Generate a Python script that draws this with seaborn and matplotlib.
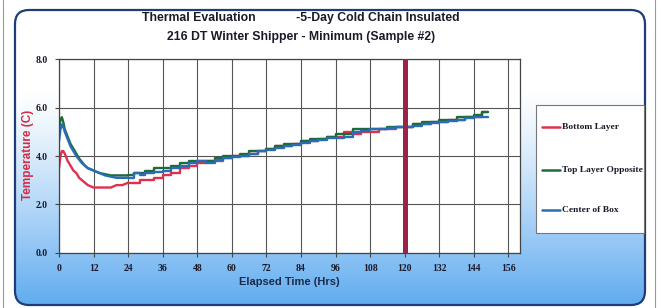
import numpy as np
import pandas as pd
import seaborn as sns
from matplotlib import pyplot as plt
from matplotlib.patches import FancyBboxPatch, Rectangle

# elapsed hours and readings (deg C)
hours = [0, 0.5, 1, 1.5, 2, 3, 4, 5, 6, 7, 8, 9, 10, 11, 12, 14, 16, 18, 20, 22,
         24, 26, 28, 30, 33, 36, 39, 42, 45, 48, 51, 54, 57, 60, 63, 66, 69, 72,
         75, 78, 81, 84, 87, 90, 93, 96, 99, 102, 105, 108, 111, 114, 117, 120,
         123, 126, 129, 132, 135, 138, 141, 144, 147, 149]
bottom_layer = [3.5, 4.0, 4.2, 4.2, 4.1, 3.8, 3.6, 3.4, 3.3, 3.1, 3.0, 2.9, 2.8, 2.75,
                2.7, 2.7, 2.7, 2.7, 2.8, 2.8, 2.9, 2.9, 3.0, 3.0, 3.1, 3.2, 3.3, 3.5,
                3.6, 3.7, 3.8, 3.8, 3.9, 4.0, 4.0, 4.1, 4.2, 4.3, 4.4, 4.4, 4.5, 4.6,
                4.6, 4.7, 4.8, 4.8, 5.0, 4.9, 5.0, 5.0, 5.1, 5.1, 5.2, 5.2, 5.3, 5.3,
                5.4, 5.4, 5.5, 5.5, 5.6, 5.6, 5.8, 5.8]
top_layer_opposite = [5.0, 5.5, 5.6, 5.4, 5.1, 4.8, 4.5, 4.3, 4.1, 3.9, 3.75, 3.6, 3.5,
                      3.45, 3.4, 3.3, 3.25, 3.2, 3.2, 3.2, 3.2, 3.3, 3.3, 3.4, 3.5, 3.5,
                      3.6, 3.7, 3.8, 3.8, 3.8, 3.9, 4.0, 4.0, 4.1, 4.2, 4.2, 4.3, 4.4,
                      4.5, 4.5, 4.6, 4.7, 4.7, 4.8, 4.9, 4.9, 5.1, 5.1, 5.1, 5.1, 5.2,
                      5.2, 5.2, 5.3, 5.4, 5.4, 5.5, 5.5, 5.6, 5.6, 5.7, 5.8, 5.8]
center_of_box = [4.6, 5.1, 5.3, 5.2, 5.0, 4.7, 4.4, 4.2, 4.0, 3.85, 3.7, 3.6, 3.5, 3.45,
                 3.4, 3.3, 3.2, 3.15, 3.1, 3.1, 3.1, 3.3, 3.2, 3.3, 3.35, 3.4, 3.5, 3.6,
                 3.7, 3.8, 3.7, 3.85, 3.9, 3.95, 4.0, 4.1, 4.2, 4.25, 4.35, 4.4, 4.45,
                 4.55, 4.6, 4.65, 4.75, 4.75, 4.8, 5.0, 5.05, 5.1, 5.1, 5.15, 5.2, 5.2,
                 5.25, 5.3, 5.35, 5.4, 5.45, 5.5, 5.55, 5.6, 5.6, 5.6]

series_names = ["Bottom Layer", "Top Layer Opposite", "Center of Box"]
series_colors = ["#e0304c", "#1d6b3b", "#2a6db6"]
x_ticks = list(range(0, 157, 12))
y_ticks = [0.0, 2.0, 4.0, 6.0, 8.0]
marker_hour = 120
warmup_end = 24  # first day drawn as a smooth curve, rest as logger steps

df = pd.DataFrame({
    "hours": hours * 3,
    "temp": bottom_layer + top_layer_opposite + center_of_box,
    "series": [n for n in series_names for _ in hours],
})

sns.set_theme(style="white")
plt.rcParams["font.family"] = ["Liberation Sans", "DejaVu Sans"]
serif = ["Liberation Serif", "DejaVu Serif"]
dark = "#1a1a2a"

fig = plt.figure(figsize=(6.59, 3.08), dpi=100)
fig.patch.set_facecolor("white")

# background panel in pixel coordinates
bg = fig.add_axes([0, 0, 1, 1])
rows = np.arange(308)
t = np.clip((rows - 90) / 210, 0, 1) ** 1.2
blue = np.array([0.39, 0.68, 0.94])
grad = (1 - t)[:, None] * np.ones(3) + t[:, None] * blue
grad = np.repeat(grad[:, None, :], 2, axis=1)
img = bg.imshow(grad, extent=[0, 659, 308, 0], aspect="auto")
frame = FancyBboxPatch((15, 10), 630, 295, boxstyle="round,pad=0,rounding_size=14",
                       facecolor="none", edgecolor="#1e3d78", lw=1.6)
bg.add_patch(frame)
img.set_clip_path(frame)
bg.axvline(3, color="#999999", lw=0.8)
bg.axvline(655, color="#999999", lw=0.8)
bg.set_xlim(0, 659)
bg.set_ylim(308, 0)
bg.axis("off")

# legend box drawn by hand
bg.add_patch(Rectangle((536, 105), 108, 128, facecolor="white", edgecolor="#777777", lw=0.8))
for y, name, col in zip([127, 170, 210], series_names, series_colors):
    bg.plot([542, 560], [y, y], color=col, lw=1.8)
    bg.text(562, y, name, fontsize=6.8, fontweight="bold", family=serif,
            va="center", ha="left", color=dark)

# main plot
ax = fig.add_axes([0.0895, 0.1786, 0.6995, 0.6298])
ax.set_facecolor("white")
early = df[df.hours <= warmup_end]
late = df[df.hours >= warmup_end]
sns.lineplot(data=early, x="hours", y="temp", hue="series", hue_order=series_names,
             palette=series_colors, linewidth=1.7, errorbar=None, legend=False, ax=ax)
sns.lineplot(data=late, x="hours", y="temp", hue="series", hue_order=series_names,
             palette=series_colors, drawstyle="steps-post", linewidth=1.7,
             errorbar=None, legend=False, ax=ax)
ax.axvline(marker_hour, color="#9a2346", lw=3.6, zorder=5)

ax.set_xlim(0, 160)
ax.set_ylim(0, 8)
ax.set_xticks(x_ticks)
ax.set_yticks(y_ticks)
ax.set_yticklabels([f"{v:.1f}" for v in y_ticks])
ax.grid(True, color="#555555", lw=0.8)
ax.set_axisbelow(True)
for s in ax.spines.values():
    s.set_color("#444444")
    s.set_linewidth(0.9)
ax.tick_params(length=3, width=0.8, color="#444444", pad=5, bottom=True, left=True)
for lab in ax.get_xticklabels() + ax.get_yticklabels():
    lab.set_family(serif)
    lab.set_fontweight("bold")
    lab.set_fontsize(7)
    lab.set_color(dark)
ax.set_xlabel("")
ax.set_ylabel("")

fig.text(0.457, 1 - 18 / 308, "Thermal Evaluation            -5-Day Cold Chain Insulated",
         ha="center", va="center", fontsize=8.8, fontweight="bold", color=dark)
fig.text(0.457, 1 - 37 / 308, "216 DT Winter Shipper - Minimum (Sample #2)",
         ha="center", va="center", fontsize=8.8, fontweight="bold", color=dark)
fig.text(28 / 659, 1 - 155 / 308, "Temperature (C)", rotation=90, ha="center", va="center",
         fontsize=8.5, fontweight="bold", color="#d42a45")
fig.text(289 / 659, 1 - 282 / 308, "Elapsed Time (Hrs)", ha="center", va="center",
         fontsize=8, fontweight="bold", color="#1c2b4c")

fig.savefig("out.png", dpi=100)
